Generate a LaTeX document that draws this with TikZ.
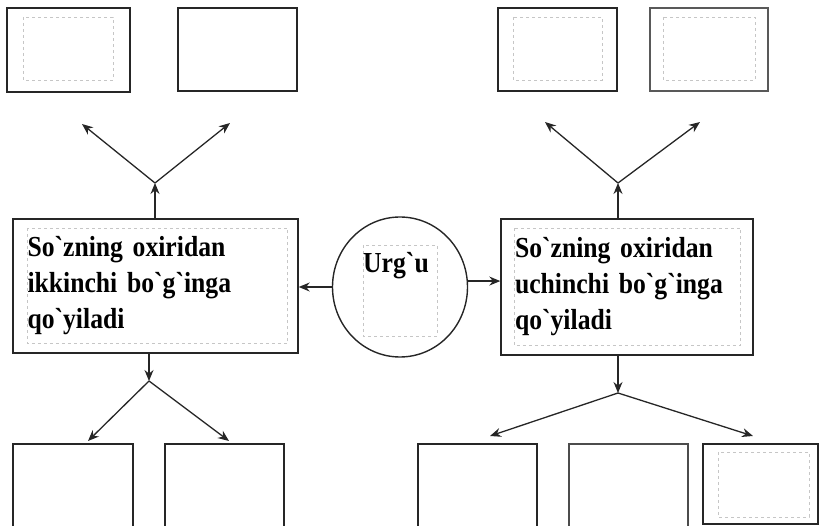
\documentclass[tikz,border=0pt]{standalone}
\usepackage{fontspec}
\newfontfamily\uzfont{Liberation Serif}[FakeStretch=0.885]
\usetikzlibrary{shapes.geometric, arrows.meta}
\begin{document}
\begin{tikzpicture}[x=1pt, y=-1pt, >={Stealth[length=11pt, width=9pt]},
    every node/.style={font=\uzfont\bfseries\fontsize{29}{36}\selectfont},
    blank/.style={draw=black!85, line width=1.4pt, inner sep=0pt},
    inner/.style={draw=gray!45, dashed, line width=0.7pt},
    link/.style={->, line width=1.3pt, draw=black!85}]
    \useasboundingbox (0,0) rectangle (820,526);
    \clip (0,0) rectangle (820,526);

    % Accent circle
    \node[draw=black!85, ellipse, line width=1.4pt, minimum width=135, minimum height=140, inner sep=0pt]
        (urgu) at (400,287) {};
    \draw[inner] (363,245) rectangle (437,336);
    \node[anchor=north west, inner sep=0pt] (urgutxt) at (363,252) {Urg`u};

    % Left rule box
    \node[blank, minimum width=285, minimum height=134, text width=256, align=left]
        (left) at (155.5,286) {So`zning oxiridan\\ikkinchi bo`g`inga\\qo`yiladi};
    \draw[inner] ([shift={(15,10)}]left.north west) rectangle ([shift={(-11,-10)}]left.south east);

    % Right rule box
    \node[blank, minimum width=252, minimum height=136, text width=224, align=left]
        (right) at (627,287) {So`zning oxiridan\\uchinchi bo`g`inga\\qo`yiladi};
    \draw[inner] ([shift={(14,10)}]right.north west) rectangle ([shift={(-13,-10)}]right.south east);

    % Upper empty boxes
    \node[blank, line width=1.7pt, minimum width=123, minimum height=84] (tl1) at (68.5,50) {};
    \draw[inner] (23,17) rectangle (113,80);
    \node[blank, minimum width=119, minimum height=83] (tl2) at (237.5,49.5) {};
    \node[blank, line width=1.6pt, minimum width=119, minimum height=83] (tr1) at (557.5,49.5) {};
    \draw[inner] (513,17) rectangle (602,80);
    \node[blank, draw=black!65, minimum width=118, minimum height=83] (tr2) at (709,49.5) {};
    \draw[inner] (663,17) rectangle (755,80);

    % Lower empty boxes
    \node[blank, minimum width=120, minimum height=86] (bl1) at (73,487) {};
    \node[blank, minimum width=119, minimum height=86] (bl2) at (224.5,487) {};
    \node[blank, minimum width=119, minimum height=86] (br1) at (477.5,487) {};
    \node[blank, draw=black!70, minimum width=119, minimum height=86] (br2) at (628.5,487) {};
    \node[blank, minimum width=115, minimum height=80] (br3) at (760.5,484) {};
    \draw[inner] (718,452) rectangle (809,517);

    % Fork points and free arrow ends
    \coordinate (lup) at (155,183);
    \coordinate (lupa) at (82,124);
    \coordinate (lupb) at (230,123);
    \coordinate (rup) at (618,183);
    \coordinate (rupa) at (545,122);
    \coordinate (rupb) at (700,122);
    \coordinate (ldown) at (149,381);
    \coordinate (ldowna) at (88,441);
    \coordinate (ldownb) at (229,441);
    \coordinate (rdown) at (618,393);
    \coordinate (rdowna) at (490,436);
    \coordinate (rdownb) at (753,436);

    % Arrows
    \draw[link] (urgu.west) -- (urgu.west -| left.east);
    \draw[link] (urgu.5) -- (urgu.5 -| right.west);
    \draw[link] (lup |- left.north) -- (lup);
    \draw[link] (lup) -- (lupa);
    \draw[link] (lup) -- (lupb);
    \draw[link] (rup |- right.north) -- (rup);
    \draw[link] (rup) -- (rupa);
    \draw[link] (rup) -- (rupb);
    \draw[link] (ldown |- left.south) -- (ldown);
    \draw[link] (ldown) -- (ldowna);
    \draw[link] (ldown) -- (ldownb);
    \draw[link] (rdown |- right.south) -- (rdown);
    \draw[link] (rdown) -- (rdowna);
    \draw[link] (rdown) -- (rdownb);
\end{tikzpicture}
\end{document}
